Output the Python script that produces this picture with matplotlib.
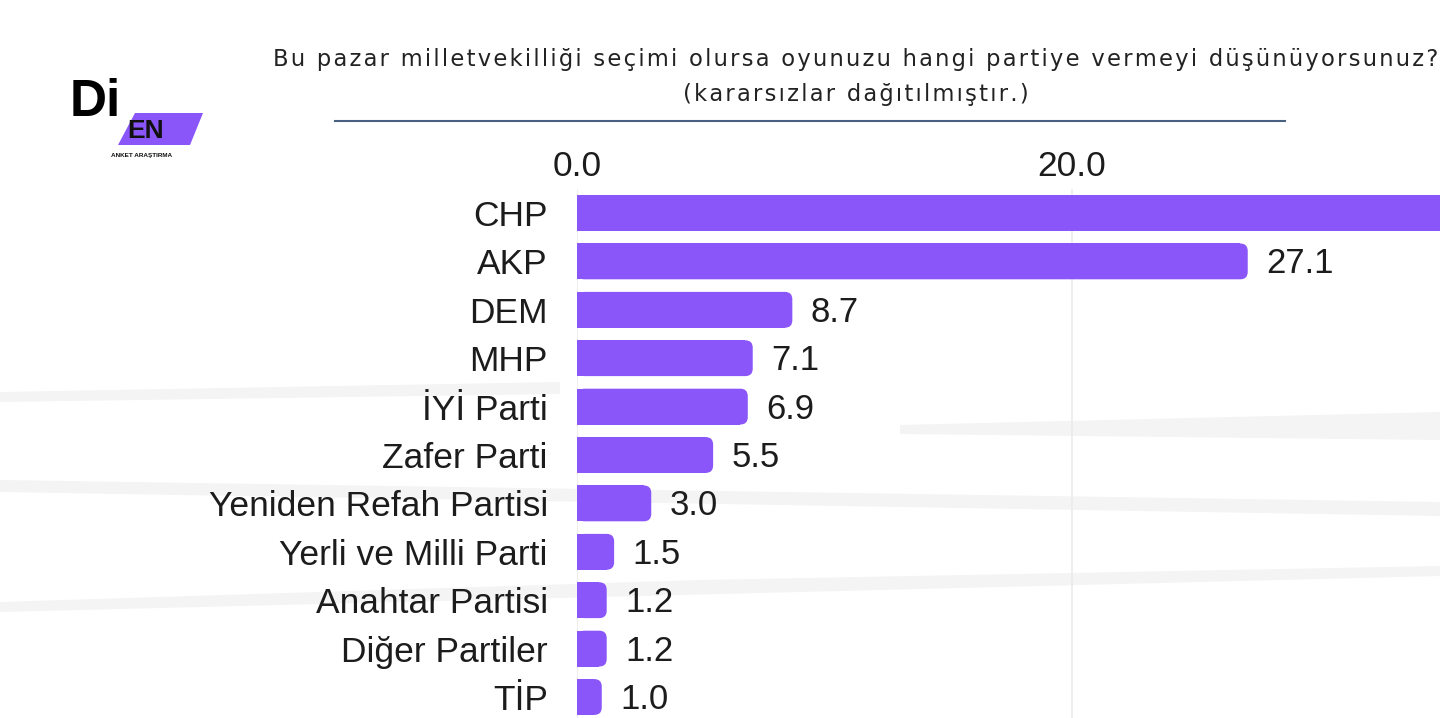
import matplotlib.pyplot as plt
from matplotlib.patches import FancyBboxPatch, Polygon, Rectangle

# Poll data (undecided voters distributed)
parties = ['CHP', 'AKP', 'DEM', 'MHP', 'İYİ Parti', 'Zafer Parti',
           'Yeniden Refah Partisi', 'Yerli ve Milli Parti', 'Anahtar Partisi',
           'Diğer Partiler', 'TİP']
values = [36.8, 27.1, 8.7, 7.1, 6.9, 5.5, 3.0, 1.5, 1.2, 1.2, 1.0]
ticks = [0, 20]

title = ('Bu pazar milletvekilliği seçimi olursa oyunuzu hangi partiye vermeyi düşünüyorsunuz?\n'
         '(kararsızlar dağıtılmıştır.)')

bar_color = '#8a55f9'
text_color = '#1c1c1c'

W, H = 1440, 718
fig = plt.figure(figsize=(W / 100, H / 100), dpi=100)
fig.patch.set_facecolor('white')

# faint background streaks
streaks = [
    [(0, 392), (560, 382), (560, 394), (0, 402)],
    [(0, 480), (1440, 502), (1440, 516), (0, 492)],
    [(0, 602), (700, 580), (1440, 566), (1440, 576), (0, 612)],
    [(900, 425), (1440, 412), (1440, 440), (900, 434)],
]
for pts in streaks:
    fig.patches.append(Polygon([(x / W, 1 - y / H) for x, y in pts],
                               closed=True, transform=fig.transFigure,
                               facecolor='#f4f4f4', edgecolor='none', zorder=-5))

# main axes: x=0 at 577px, 24.75 px per unit; rows every 48.4px starting at 213px
ax = fig.add_axes([577 / W, 0, 1 - 577 / W, 1 - 189 / H])
ax.set_facecolor('none')
xmax = (W - 577) / 24.75
ax.set_xlim(0, xmax)
ax.set_ylim(10 + (718 - 697) / 48.4, -(213 - 189) / 48.4)

h = 0.74
r = 0.3
asp = 24.75 / 48.4
ypos = list(range(len(parties)))
ax.barh(ypos, [max(v - r, 0) for v in values], height=h, color=bar_color, zorder=3)
for y, v in zip(ypos, values):
    ax.add_patch(FancyBboxPatch((0, y - h / 2), v, h,
                                boxstyle=f'round,pad=0,rounding_size={r}',
                                mutation_aspect=asp, facecolor=bar_color,
                                edgecolor='none', zorder=3))
    if v + 3 < xmax:
        ax.text(v + 0.75, y + 0.05, f'{v:.1f}', va='center', ha='left',
                fontsize=25, color=text_color, family='Liberation Sans', zorder=4)

ax.set_yticks(ypos)
ax.set_yticklabels(parties, fontsize=25.5, color=text_color, family='Liberation Sans')
ax.tick_params(axis='y', length=0, pad=21)

ax.xaxis.tick_top()
ax.set_xticks(ticks)
ax.set_xticklabels([f'{t:.1f}' for t in ticks], fontsize=25.5, color=text_color,
                   family='Liberation Sans')
ax.tick_params(axis='x', length=0, pad=4)
ax.grid(axis='x', color='#ebebeb', linewidth=1.2, zorder=0)
for s in ax.spines.values():
    s.set_visible(False)

# title with loose letter spacing
spaced = '\n'.join('\u200a'.join(line) for line in title.split('\n'))
fig.text(856 / W, 1 - 77 / H, spaced, ha='center', va='center', fontsize=16.3,
         color='#222222', family='DejaVu Sans', linespacing=1.65)
fig.add_artist(plt.Line2D([335 / W, 1285 / W], [1 - 121 / H] * 2,
                          color='#4a6080', linewidth=1.5))

# logo
fig.patches.append(Rectangle((67 / W, 1 - 170 / H), 138 / W, 95 / H,
                             transform=fig.transFigure, facecolor='white',
                             edgecolor='none', zorder=1))
fig.patches.append(Polygon([(x / W, 1 - y / H) for x, y in
                            [(135, 113), (203, 113), (190, 145), (118, 145)]],
                           closed=True, transform=fig.transFigure,
                           facecolor=bar_color, edgecolor='none', zorder=2))
fig.text(70 / W, 1 - 103 / H, 'Di', fontsize=37, fontweight='bold', color='black',
         family='Liberation Sans', va='center', ha='left', zorder=3)
fig.text(127 / W, 1 - 131 / H, 'EN', fontsize=19, fontweight='bold', color='#111111',
         family='Liberation Sans', va='center', ha='left', zorder=3)
fig.text(111 / W, 1 - 156 / H, 'ANKET ARAŞTIRMA', fontsize=4.6, fontweight='bold',
         color='#111111', family='Liberation Sans', va='center', ha='left', zorder=3)

fig.savefig('out.png', dpi=100)
